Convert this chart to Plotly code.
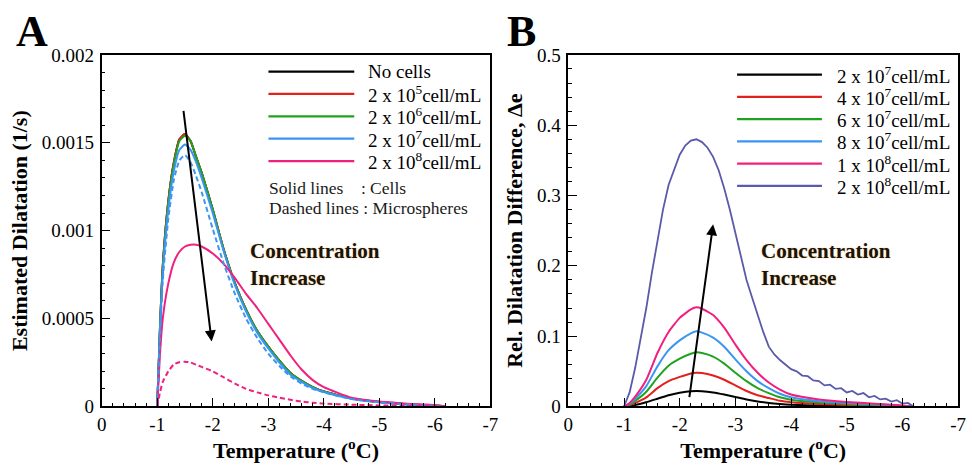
import plotly.graph_objects as go

# ---------------- data: panel A (estimated dilatation, 1/s) ----------------
temp_a = [-1.0, -1.05, -1.1, -1.2, -1.3, -1.4, -1.5, -1.6, -1.7, -1.8, -2.0, -2.2,
          -2.4, -2.6, -2.8, -3.0, -3.2, -3.4, -3.6, -3.8, -4.0, -4.5, -5.0, -5.5,
          -6.0, -6.2]

no_cells = [0, 0.00045, 0.00080, 0.00117, 0.00139, 0.00152, 0.00155, 0.00151, 0.00142,
            0.00133, 0.00112, 0.00089, 0.00070, 0.00055, 0.00043, 0.00034, 0.00026,
            0.00019, 0.000145, 0.00011, 0.000085, 0.000045, 0.000025, 0.000012,
            0.000005, 0]
cells_2e5 = [0, 0.00045, 0.00080, 0.00117, 0.00139, 0.00152, 0.00155, 0.00151, 0.00142,
             0.00133, 0.00112, 0.00089, 0.00070, 0.00055, 0.00043, 0.00034, 0.00026,
             0.00019, 0.000145, 0.00011, 0.000085, 0.000045, 0.000025, 0.000012,
             0.000005, 0]
cells_2e6 = [0, 0.00045, 0.00079, 0.00116, 0.00138, 0.00151, 0.00154, 0.00151, 0.00142,
             0.00133, 0.00112, 0.00089, 0.00070, 0.00055, 0.00043, 0.00034, 0.00026,
             0.00019, 0.000145, 0.00011, 0.000085, 0.000045, 0.000025, 0.000012,
             0.000005, 0]
cells_2e7 = [0, 0.00043, 0.00076, 0.00112, 0.00134, 0.00146, 0.00149, 0.00146, 0.00139,
             0.00130, 0.00110, 0.00088, 0.00069, 0.00054, 0.00042, 0.00033, 0.00025,
             0.00018, 0.00014, 0.000105, 0.000082, 0.000044, 0.000024, 0.000012,
             0.000005, 0]
cells_2e8 = [0, 0.00030, 0.00050, 0.00070, 0.00082, 0.00088, 0.00091, 0.00092, 0.00092,
             0.00091, 0.00087, 0.00081, 0.00073, 0.00064, 0.00056, 0.00047, 0.00038,
             0.00029, 0.00021, 0.00015, 0.00011, 0.00005, 0.000028, 0.000016,
             0.000007, 0]
beads_2e7 = [0, 0.00040, 0.00072, 0.00107, 0.00129, 0.00140, 0.00143, 0.00139, 0.00131,
             0.00122, 0.00101, 0.00081, 0.00064, 0.00050, 0.00039, 0.00030, 0.00023,
             0.00017, 0.00013, 0.00010, 0.00008, 0.000042, 0.000023, 0.000011,
             0.000004, 0]
beads_2e8 = [0, 0.00008, 0.00014, 0.00020, 0.00024, 0.000252, 0.000255, 0.00025, 0.000238,
             0.000225, 0.00020, 0.000165, 0.00013, 0.00010, 0.00008, 0.000063, 0.00005,
             0.000038, 0.000028, 0.000021, 0.000016, 0.00001, 0.000006, 0.000003,
             0.000001, 0]

# ---------------- data: panel B (relative dilatation difference) ----------------
temp_b = [-1.0, -1.1, -1.2, -1.4, -1.6, -1.8, -2.0, -2.2, -2.3, -2.4, -2.6, -2.8, -3.0,
          -3.2, -3.4, -3.6, -3.8, -4.0, -4.5, -5.0, -5.5, -6.0, -6.2]

rel_2e7 = [0, 0, 0.002, 0.006, 0.011, 0.016, 0.0195, 0.0218, 0.022, 0.0218, 0.020, 0.017,
           0.0135, 0.010, 0.0072, 0.005, 0.0035, 0.0025, 0.0012, 0.0006, 0.0003, 0.0001, 0]
rel_4e7 = [0, 0.002, 0.005, 0.013, 0.026, 0.036, 0.042, 0.047, 0.048, 0.0475, 0.044, 0.038,
           0.030, 0.022, 0.016, 0.012, 0.008, 0.006, 0.0035, 0.002, 0.001, 0.0005, 0]
rel_6e7 = [0, 0.003, 0.008, 0.021, 0.041, 0.058, 0.068, 0.075, 0.077, 0.076, 0.071, 0.061,
           0.048, 0.036, 0.026, 0.019, 0.013, 0.0095, 0.0055, 0.0035, 0.002, 0.0008, 0]
rel_8e7 = [0, 0.004, 0.011, 0.029, 0.057, 0.080, 0.094, 0.104, 0.107, 0.105, 0.098, 0.085,
           0.067, 0.050, 0.036, 0.026, 0.018, 0.013, 0.0075, 0.005, 0.003, 0.001, 0]
rel_1e8 = [0, 0.005, 0.014, 0.038, 0.076, 0.106, 0.126, 0.138, 0.141, 0.139, 0.130, 0.112,
           0.088, 0.066, 0.048, 0.034, 0.024, 0.017, 0.010, 0.0065, 0.004, 0.0015, 0]

temp_b_fine = [-1.0, -1.1, -1.2, -1.3, -1.4, -1.5, -1.6, -1.7, -1.8, -1.9, -2.0, -2.1,
               -2.2, -2.3, -2.4, -2.5, -2.6, -2.7, -2.8, -2.9, -3.0, -3.1, -3.2, -3.3,
               -3.4, -3.5, -3.6, -3.7, -3.8, -3.9, -4.0, -4.1, -4.2, -4.3, -4.4, -4.5,
               -4.6, -4.7, -4.8, -4.9, -5.0, -5.1, -5.2, -5.3, -5.4, -5.5, -5.6, -5.7,
               -5.8, -5.9, -6.0, -6.1, -6.2]
rel_2e8 = [0, 0.02, 0.055, 0.095, 0.14, 0.19, 0.235, 0.28, 0.315, 0.338, 0.358, 0.371,
           0.378, 0.380, 0.376, 0.368, 0.355, 0.336, 0.310, 0.280, 0.246, 0.212, 0.180,
           0.155, 0.130, 0.106, 0.085, 0.074, 0.066, 0.060, 0.053, 0.050, 0.044, 0.043,
           0.037, 0.036, 0.030, 0.031, 0.025, 0.026, 0.020, 0.022, 0.017, 0.019, 0.013,
           0.015, 0.010, 0.011, 0.007, 0.009, 0.004, 0.005, 0.0]

# ---------------- tick labels ----------------
x_tick_vals = [0, -1, -2, -3, -4, -5, -6, -7]
x_tick_text = ["0", "-1", "-2", "-3", "-4", "-5", "-6", "-7"]
ya_tick_vals = [0, 0.0005, 0.001, 0.0015, 0.002]
ya_tick_text = ["0", "0.0005", "0.001", "0.0015", "0.002"]
yb_tick_vals = [0, 0.1, 0.2, 0.3, 0.4, 0.5]
yb_tick_text = ["0", "0.1", "0.2", "0.3", "0.4", "0.5"]

legend_a = ["No cells", "2 x 10<sup>5</sup>cell/mL", "2 x 10<sup>6</sup>cell/mL",
            "2 x 10<sup>7</sup>cell/mL", "2 x 10<sup>8</sup>cell/mL"]
legend_b = ["2 x 10<sup>7</sup>cell/mL", "4 x 10<sup>7</sup>cell/mL",
            "6 x 10<sup>7</sup>cell/mL", "8 x 10<sup>7</sup>cell/mL",
            "1 x 10<sup>8</sup>cell/mL", "2 x 10<sup>8</sup>cell/mL"]

# ---------------- styling ----------------
W, H = 972, 470
SERIF = "Liberation Serif"
BLACK = "#000000"
RED = "#E2201C"
GREEN = "#1FA31F"
BLUE = "#3A96F2"
PINK = "#F0207F"
PURPLE = "#5A5AAA"
colors_a = [BLACK, RED, GREEN, BLUE, PINK]
colors_b = [BLACK, RED, GREEN, BLUE, PINK, PURPLE]


def px_x(p):
    return p / W


def px_y(p):
    return 1 - p / H


fig = go.Figure()

line_kw = dict(shape="spline", smoothing=0.5, width=2)

# panel A curves (solid = cells, dashed = microspheres)
for ys, col in zip([no_cells, cells_2e5, cells_2e6, cells_2e7, cells_2e8], colors_a):
    fig.add_trace(go.Scatter(x=temp_a, y=ys, mode="lines", line=dict(color=col, **line_kw),
                             xaxis="x", yaxis="y", showlegend=False))
for ys, col in zip([beads_2e7, beads_2e8], [BLUE, PINK]):
    fig.add_trace(go.Scatter(x=temp_a, y=ys, mode="lines",
                             line=dict(color=col, dash="5px,3px", **line_kw),
                             xaxis="x", yaxis="y", showlegend=False))

# panel B curves
for ys, col in zip([rel_2e7, rel_4e7, rel_6e7, rel_8e7, rel_1e8], colors_b[:5]):
    fig.add_trace(go.Scatter(x=temp_b, y=ys, mode="lines", line=dict(color=col, **line_kw),
                             xaxis="x2", yaxis="y2", showlegend=False))
fig.add_trace(go.Scatter(x=temp_b_fine, y=rel_2e8, mode="lines",
                         line=dict(color=PURPLE, width=1.8, shape="linear"),
                         xaxis="x2", yaxis="y2", showlegend=False))

# axes
tick_font = dict(family=SERIF, size=19, color=BLACK)
title_font = dict(family=SERIF, size=22, color=BLACK, weight="bold")
common_axis = dict(showline=True, linecolor=BLACK, linewidth=1.6, mirror=True,
                   ticks="inside", ticklen=9, tickwidth=1.4, tickcolor=BLACK,
                   showgrid=False, zeroline=False, tickfont=tick_font)
x_common = dict(common_axis, range=[0, -7], tickvals=x_tick_vals, ticktext=x_tick_text,
                minor=dict(ticks="inside", ticklen=4, tickwidth=1, tickcolor=BLACK,
                           dtick=0.2, showgrid=False),
                title=dict(text="Temperature (<sup>o</sup>C)", font=title_font, standoff=6))

fig.update_layout(
    width=W, height=H, margin=dict(l=0, r=0, t=0, b=0),
    paper_bgcolor="white", plot_bgcolor="white",
    font=dict(family=SERIF, color=BLACK),
    xaxis=dict(x_common, domain=[px_x(98), px_x(492)], anchor="y"),
    yaxis=dict(common_axis, domain=[px_y(415), px_y(47)], range=[0, 0.002], anchor="x",
               tickvals=ya_tick_vals, ticktext=ya_tick_text, ticklabelstandoff=2,
               minor=dict(ticks="inside", ticklen=4, tickwidth=1, tickcolor=BLACK,
                          dtick=0.0001, showgrid=False),
               title=dict(text="Estimated Dilatation (1/s)", font=title_font, standoff=8)),
    xaxis2=dict(x_common, domain=[px_x(571), px_x(966)], anchor="y2"),
    yaxis2=dict(common_axis, domain=[px_y(415), px_y(47)], range=[0, 0.5], anchor="x2",
                tickvals=yb_tick_vals, ticktext=yb_tick_text, ticklabelstandoff=2,
                minor=dict(ticks="inside", ticklen=4, tickwidth=1, tickcolor=BLACK,
                           dtick=0.02, showgrid=False),
                title=dict(text="Rel. Dilatation Difference, \u0394e", font=title_font,
                           standoff=8)),
)

shapes = []
annotations = []

# hand-drawn legend, panel A
for i, (lab, col) in enumerate(zip(legend_a, colors_a)):
    yy = 64.5 + i * 23.4
    shapes.append(dict(type="line", xref="paper", yref="paper",
                       x0=px_x(267), x1=px_x(354), y0=px_y(yy), y1=px_y(yy),
                       line=dict(color=col, width=2.2)))
    annotations.append(dict(xref="paper", yref="paper", x=px_x(366), y=px_y(yy),
                            text=lab, showarrow=False, xanchor="left", yanchor="middle",
                            font=dict(family=SERIF, size=19, color=BLACK)))
annotations.append(dict(xref="paper", yref="paper", x=px_x(266), y=px_y(186.5),
                        text="Solid lines&nbsp;&nbsp;&nbsp; : Cells", showarrow=False,
                        xanchor="left", yanchor="middle",
                        font=dict(family=SERIF, size=17.5, color="#1a1a1a")))
annotations.append(dict(xref="paper", yref="paper", x=px_x(266), y=px_y(207),
                        text="Dashed lines : Microspheres", showarrow=False,
                        xanchor="left", yanchor="middle",
                        font=dict(family=SERIF, size=17.5, color="#1a1a1a")))

# hand-drawn legend, panel B
for i, (lab, col) in enumerate(zip(legend_b, colors_b)):
    yy = 67.7 + i * 23.3
    shapes.append(dict(type="line", xref="paper", yref="paper",
                       x0=px_x(742), x1=px_x(828), y0=px_y(yy), y1=px_y(yy),
                       line=dict(color=col, width=2.2)))
    annotations.append(dict(xref="paper", yref="paper", x=px_x(841), y=px_y(yy),
                            text=lab, showarrow=False, xanchor="left", yanchor="middle",
                            font=dict(family=SERIF, size=19, color=BLACK)))

# "Concentration Increase" notes
note_font = dict(family=SERIF, size=21, color="#1c1405", weight="bold",
                 shadow="0px 0px 1.5px rgba(210,130,40,0.55)")
for xpx in (246, 764):
    annotations.append(dict(xref="paper", yref="paper", x=px_x(xpx), y=px_y(266),
                            text="Concentration<br>Increase", showarrow=False,
                            xanchor="left", yanchor="middle", align="left",
                            font=note_font))

# trend arrows
annotations.append(dict(xref="x", yref="y", axref="x", ayref="y",
                        x=-1.98, y=0.00037, ax=-1.47, ay=0.00169, text="",
                        showarrow=True, arrowhead=2, arrowsize=1.1, arrowwidth=2,
                        arrowcolor=BLACK))
annotations.append(dict(xref="x2", yref="y2", axref="x2", ayref="y2",
                        x=-2.60, y=0.259, ax=-2.17, ay=0.011, text="",
                        showarrow=True, arrowhead=2, arrowsize=1.1, arrowwidth=2,
                        arrowcolor=BLACK))

# panel letters
for lab, xpx in (("A", 27), ("B", 523.5)):
    annotations.append(dict(xref="paper", yref="paper", x=px_x(xpx), y=px_y(23),
                            text=lab, showarrow=False, xanchor="center", yanchor="middle",
                            font=dict(family=SERIF, size=44, color=BLACK, weight="bold")))

fig.update_layout(shapes=shapes, annotations=annotations)

fig.write_html("out.html")
